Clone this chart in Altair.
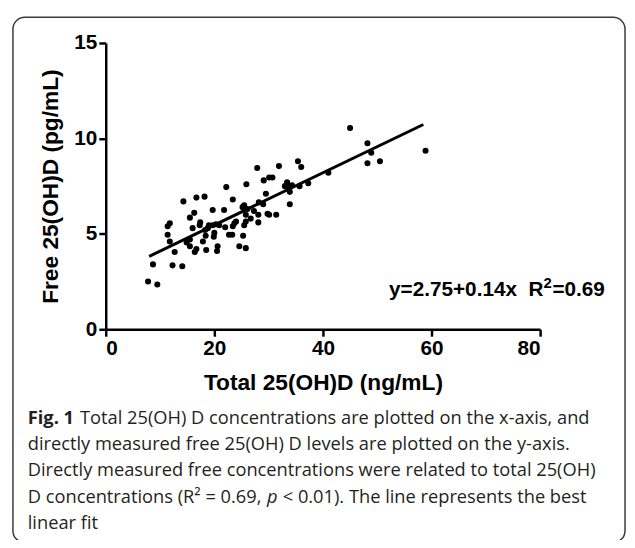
import altair as alt
import pandas as pd

# ---- data ----
total_25ohd = [7.8, 9.5, 8.7, 12.3, 14.1, 12.7, 11.8, 11.4, 11.4, 11.8,
               14.9, 15.5, 16.4, 16.7, 18.5, 20.5, 20.6, 17.9, 18.4, 19.9,
               18.3, 17.4, 16.0, 15.5, 16.3, 19.0, 20.3, 22.0, 23.3, 23.7,
               25.3, 24.6, 25.8, 25.5, 25.8, 25.8, 26.7, 28.1, 28.1, 30.1,
               31.4, 14.3, 16.7, 18.2, 19.7, 21.8, 17.3, 18.8, 19.7, 22.2,
               23.4, 25.9, 27.9, 30.1, 30.7, 29.1, 29.5, 28.2, 29.0, 25.5,
               26.1, 25.2, 27.3, 29.8, 24.0, 23.4, 22.7, 20.0, 15.5, 31.9,
               33.0, 33.4, 33.7, 34.3, 33.9, 33.9, 35.4, 36.0, 35.7, 37.3,
               41.0, 45.0, 48.2, 48.9, 48.2, 50.5, 58.9, 20.9]
free_25ohd = [2.5, 2.35, 3.4, 3.35, 3.3, 4.05, 4.6, 4.95, 5.4, 5.55,
              4.55, 4.35, 4.05, 4.2, 4.15, 4.1, 4.35, 4.6, 4.9, 4.85,
              5.2, 5.6, 5.3, 5.85, 6.1, 5.45, 5.5, 5.35, 4.95, 5.55,
              4.9, 4.35, 4.25, 5.45, 5.65, 6.0, 5.8, 5.6, 6.0, 6.0,
              6.0, 6.7, 6.9, 6.95, 6.25, 6.25, 5.45, 5.3, 5.45, 7.45,
              6.8, 7.6, 8.45, 7.95, 7.95, 7.8, 7.1, 6.65, 6.55, 6.5,
              6.3, 6.4, 6.2, 6.05, 5.65, 5.4, 4.95, 5.05, 4.7, 8.55,
              7.5, 7.7, 7.5, 7.55, 7.2, 6.55, 8.8, 8.5, 7.5, 7.65,
              8.2, 10.55, 9.75, 9.25, 8.7, 8.8, 9.35, 5.45]

fit_x = [8.0, 58.5]
fit_y = [3.82, 10.73]

x_ticks = [0, 20, 40, 60, 80]
y_ticks = [0, 5, 10, 15]

x_title = "Total 25(OH)D (ng/mL)"
y_title = "Free 25(OH)D (pg/mL)"
eq_a = "y=2.75+0.14x\u00a0\u00a0R"
eq_sup = "2"
eq_b = "=0.69"

fig_label = "Fig. 1"
caption_lines = [
    "Total 25(OH) D concentrations are plotted on the x-axis, and",
    "directly measured free 25(OH) D levels are plotted on the y-axis.",
    "Directly measured free concentrations were related to total 25(OH)",
    None,
    "linear fit",
]
line4_a = "D concentrations (R\u00b2 = 0.69,"
line4_p = "p"
line4_c = "< 0.01). The line represents the best"

# ---- chart ----
pts = pd.DataFrame({"x": total_25ohd, "y": free_25ohd})
fit = pd.DataFrame({"x": fit_x, "y": fit_y})
one = pd.DataFrame({"k": [0]})

xs = alt.Scale(domain=[0, 80], nice=False)
ys = alt.Scale(domain=[0, 15], nice=False)

lab = dict(labelFont="Liberation Sans", labelFontWeight="bold", labelFontSize=21,
           labelColor="black", labelPadding=2,
           titleFont="Liberation Sans", titleFontWeight="bold", titleFontSize=23,
           titleColor="black", domainColor="black", domainWidth=2.5,
           tickColor="black", tickWidth=2.5, tickSize=7, grid=False)

points = alt.Chart(pts).mark_circle(size=38, color="black", opacity=1).encode(
    x=alt.X("x:Q", scale=xs, title=x_title,
            axis=alt.Axis(values=x_ticks, titlePadding=13, **lab)),
    y=alt.Y("y:Q", scale=ys, title=y_title,
            axis=alt.Axis(values=y_ticks, titlePadding=11, **lab)),
)

line = alt.Chart(fit).mark_line(color="black", strokeWidth=3).encode(
    x=alt.X("x:Q", scale=xs), y=alt.Y("y:Q", scale=ys)
)

eq_x = 394 - 107
eq_y = 296 - 40
eq_size = 21
eq1 = alt.Chart(one).mark_text(
    text=eq_a, font="Liberation Sans", fontWeight="bold", fontSize=eq_size,
    align="left", baseline="alphabetic", color="black"
).encode(x=alt.value(eq_x), y=alt.value(eq_y))
eq2 = alt.Chart(one).mark_text(
    text=eq_sup, font="Liberation Sans", fontWeight="bold", fontSize=15,
    align="left", baseline="alphabetic", color="black"
).encode(x=alt.value(eq_x + 7.45 * eq_size), y=alt.value(eq_y - 8))
eq3 = alt.Chart(one).mark_text(
    text=eq_b, font="Liberation Sans", fontWeight="bold", fontSize=eq_size,
    align="left", baseline="alphabetic", color="black"
).encode(x=alt.value(eq_x + 7.45 * eq_size + 9), y=alt.value(eq_y))

border = alt.Chart(one).mark_rect(
    fill=None, fillOpacity=0, stroke="#3a3a3a", strokeWidth=1.5, cornerRadius=12
).encode(x=alt.value(-94), x2=alt.value(526), y=alt.value(-26), y2=alt.value(506))

cap_font = "Open Sans"
cap_size = 18.5
cap_color = "#231f20"
x0 = 28 - 107
y_first = 420 - 40
dy = 26.5

layers = [border, line, points, eq1, eq2, eq3]

layers.append(alt.Chart(one).mark_text(
    text=fig_label, font=cap_font, fontSize=cap_size, fontWeight="bold",
    align="left", baseline="middle", color=cap_color
).encode(x=alt.value(x0), y=alt.value(y_first)))

for i, txt in enumerate(caption_lines):
    if txt is None:
        continue
    xx = x0 + (53 if i == 0 else 0)
    layers.append(alt.Chart(one).mark_text(
        text=txt, font=cap_font, fontSize=cap_size, align="left",
        baseline="middle", color=cap_color
    ).encode(x=alt.value(xx), y=alt.value(y_first + i * dy)))

y4 = y_first + 3 * dy
wa = 13.1 * cap_size
layers.append(alt.Chart(one).mark_text(
    text=line4_a, font=cap_font, fontSize=cap_size, align="left",
    baseline="middle", color=cap_color
).encode(x=alt.value(x0), y=alt.value(y4)))
layers.append(alt.Chart(one).mark_text(
    text=line4_p, font=cap_font, fontSize=cap_size, fontStyle="italic", align="left",
    baseline="middle", color=cap_color
).encode(x=alt.value(x0 + wa), y=alt.value(y4)))
layers.append(alt.Chart(one).mark_text(
    text=line4_c, font=cap_font, fontSize=cap_size, align="left",
    baseline="middle", color=cap_color
).encode(x=alt.value(x0 + wa + 0.6 * cap_size + 0.26 * cap_size), y=alt.value(y4)))

chart = alt.layer(*layers).properties(
    width=440, height=290,
    autosize=alt.AutoSizeParams(type="none"),
    padding={"left": 99, "top": 32, "right": 88, "bottom": 210},
    background="white",
).configure_view(stroke=None)

chart.save("out.html", embed_options={"renderer": "svg", "actions": False})
